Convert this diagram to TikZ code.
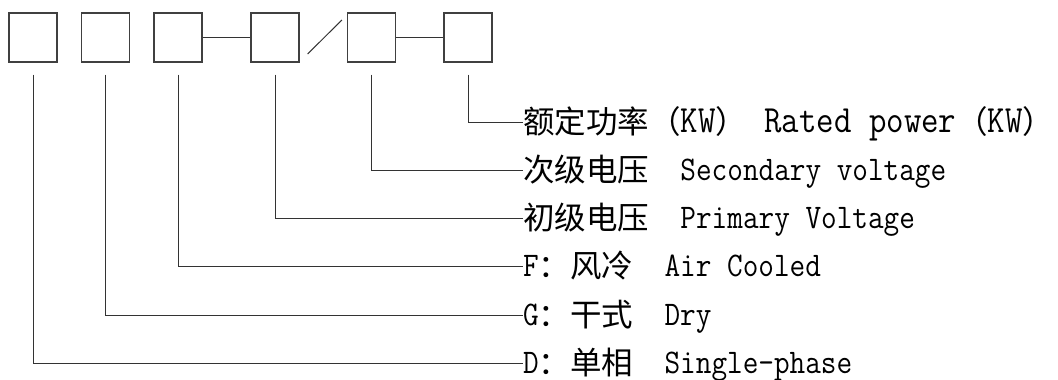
\documentclass[tikz,border=0pt]{standalone}
\usepackage{fontspec}
\setmainfont[FakeStretch=0.88]{Latin Modern Mono}
\newfontfamily\cjk{Noto Sans CJK SC}
\usetikzlibrary{calc}
\tikzset{>=stealth}
\tikzset{codebox/.style={draw=black!75,line width=1.2pt,minimum width=48pt,minimum height=49pt,inner sep=0pt},
  lead/.style={black!80,line width=1pt},
  desc/.style={anchor=west,inner sep=0pt,text height=25pt,text depth=5pt,font=\fontsize{34.5}{34.5}\selectfont}}
\newcommand{\zh}[1]{{\cjk\fontsize{31.5}{31.5}\selectfont\raisebox{-1pt}{#1}}}

\begin{document}
\begin{tikzpicture} [x=1pt,y=-1pt]
        \useasboundingbox (0,0) rectangle (1058,380);
        \node [codebox] (d) at (33,37.5) {};
        \node [codebox] (g) at (105.5,37.5) {};
        \node [codebox] (f) at (178,37.5) {};
        \node [codebox] (p) at (275,37.5) {};
        \node [codebox] (s) at (371.5,37.5) {};
        \node [codebox] (kw) at (468,37.5) {};
        \draw [lead] (f.east)--(p.west);
        \draw [lead] (s.east)--(kw.west);
        \draw [lead] ($(p.east)+(8,16.5)$)--($(s.west)+(-5,-17.5)$);
        \node [desc] (tkw) at (523,122) {\zh{额定功率（}\fontsize{38.5}{38.5}\selectfont KW\zh{）} Rated power\zh{（}KW\zh{）}};
        \node [desc] (ts) at (523,170.3) {\zh{次级电压}\ \ Secondary voltage};
        \node [desc] (tp) at (523,218.5) {\zh{初级电压}\ \ Primary Voltage};
        \node [desc] (tf) at (523,266.8) {F\zh{：风冷}\ \ Air Cooled};
        \node [desc] (tg) at (523,315) {G\zh{：干式}\ \ Dry};
        \node [desc] (td) at (523,363.5) {D\zh{：单相}\ \ Single-phase};
        \draw [lead] ($(kw.south)+(0,12)$) |- (tkw.west);
        \draw [lead] ($(s.south)+(0,12)$) |- (ts.west);
        \draw [lead] ($(p.south)+(0,12)$) |- (tp.west);
        \draw [lead] ($(f.south)+(0,12)$) |- (tf.west);
        \draw [lead] ($(g.south)+(0,12)$) |- (tg.west);
        \draw [lead] ($(d.south)+(0,12)$) |- (td.west);
      \end{tikzpicture}
\end{document}
